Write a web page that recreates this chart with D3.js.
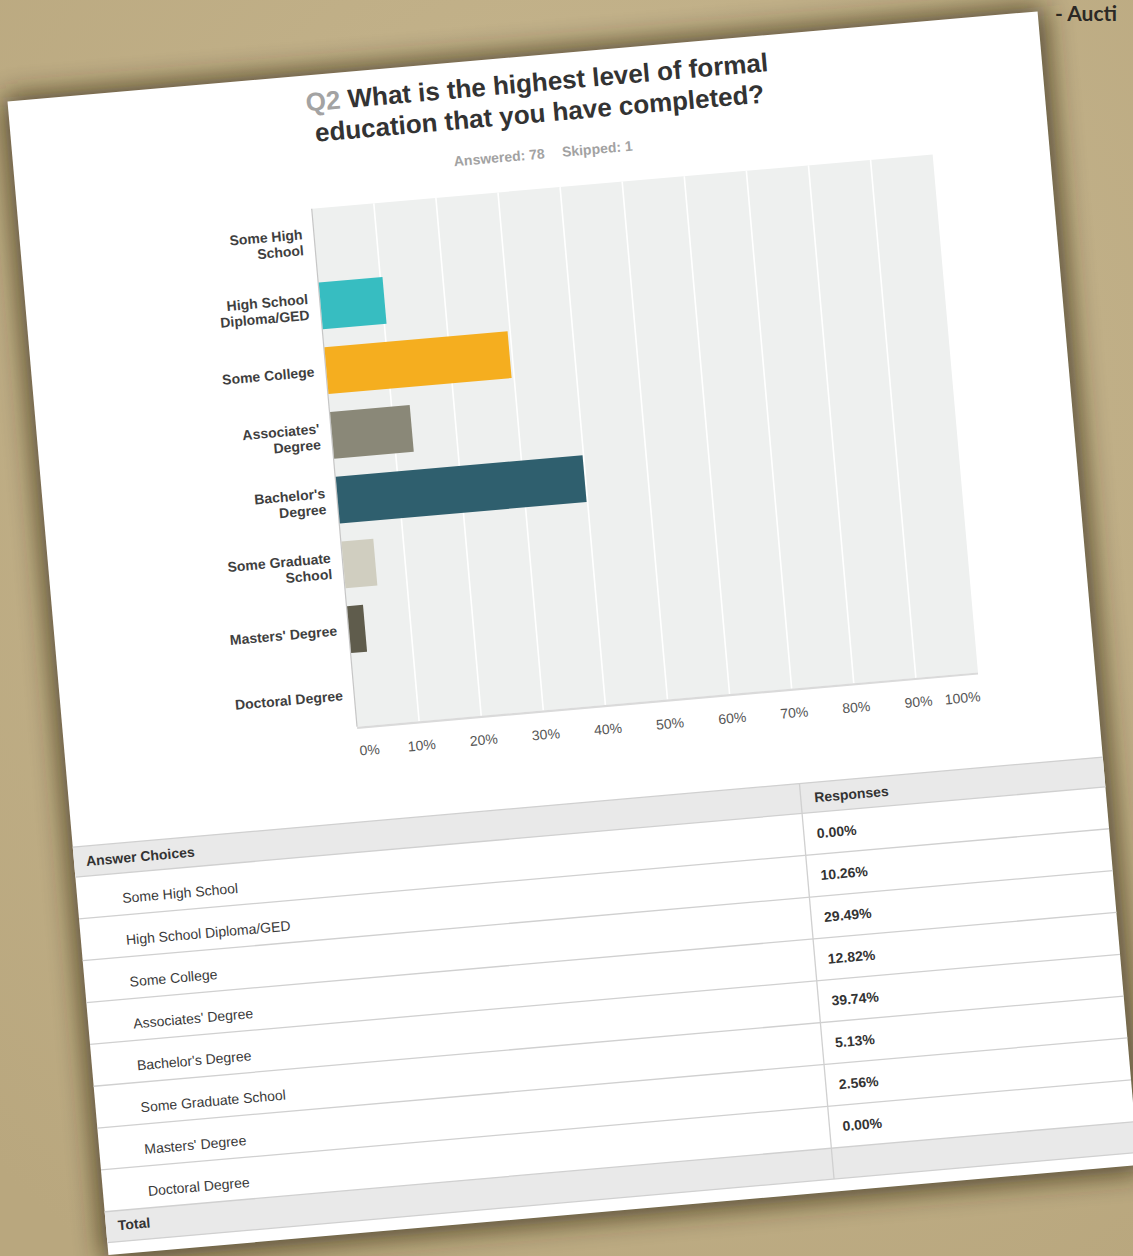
<!DOCTYPE html>
<html>
<head>
<meta charset="utf-8">
<script src="https://cdn.jsdelivr.net/npm/d3@7"></script>
<style>
  html, body { margin: 0; padding: 0; background: #c4b48c; overflow: hidden; }
  svg { display: block; font-family: "Liberation Sans", Arial, sans-serif; }
</style>
</head>
<body>
<svg id="chart"></svg>
<script>
// chart data
var categories = ["Some High School", "High School Diploma/GED", "Some College", "Associates' Degree",
  "Bachelor's Degree", "Some Graduate School", "Masters' Degree", "Doctoral Degree"];
var axisLabels = [["Some High", "School"], ["High School", "Diploma/GED"], ["Some College"],
  ["Associates'", "Degree"], ["Bachelor's", "Degree"], ["Some Graduate", "School"],
  ["Masters' Degree"], ["Doctoral Degree"]];
var percents = [0, 10.26, 29.49, 12.82, 39.74, 5.13, 2.56, 0];
var barColors = ["#37bdc1", "#37bdc1", "#f5ae1f", "#8a8878", "#2f5f6e", "#d0cec0", "#5f5c4c", "#a5a08c"];
var xTicks = [0, 10, 20, 30, 40, 50, 60, 70, 80, 90, 100];
var titleLines = ["What is the highest level of formal", "education that you have completed?"];
var answered = "Answered: 78", skipped = "Skipped: 1";

var W = 1133, H = 1256;
var svg = d3.select("#chart").attr("width", W).attr("height", H);
var defs = svg.append("defs");

// tan background
var bg = defs.append("radialGradient").attr("id", "bg")
  .attr("cx", "55%").attr("cy", "35%").attr("r", "80%");
bg.append("stop").attr("offset", "0%").attr("stop-color", "#c8b891");
bg.append("stop").attr("offset", "100%").attr("stop-color", "#b9a77e");
svg.append("rect").attr("width", W).attr("height", H).attr("fill", "url(#bg)");

defs.append("filter").attr("id", "shadow")
  .attr("x", "-20%").attr("y", "-20%").attr("width", "140%").attr("height", "140%")
  .append("feGaussianBlur").attr("stdDeviation", 14);

svg.append("text")
  .attr("x", 1055).attr("y", 21)
  .style("font-family", "Lato, 'Open Sans', sans-serif")
  .style("font-size", "21px").style("font-weight", "bold")
  .attr("fill", "#2b2925")
  .text("- Aucti");

// the sheet, tilted
var page = svg.append("g").attr("transform", "translate(7.5,101.5) rotate(-5)");
page.append("rect")
  .attr("x", -4).attr("y", -4).attr("width", 1044).attr("height", 1168)
  .attr("fill", "#2a2010").attr("opacity", 0.75)
  .attr("filter", "url(#shadow)");
page.append("rect").attr("width", 1034).attr("height", 1158).attr("fill", "#fff");

// title
var title = page.append("text")
  .attr("text-anchor", "middle")
  .style("font-size", "26px").style("font-weight", "bold");
title.append("tspan").attr("x", 529).attr("y", 36)
  .append("tspan").attr("fill", "#a3a3a3").text("Q2 ");
title.select("tspan").append("tspan").attr("fill", "#333").text(titleLines[0]);
title.append("tspan").attr("x", 529).attr("y", 67).attr("fill", "#333").text(titleLines[1]);

page.append("text").attr("x", 530.5).attr("y", 103.5).attr("text-anchor", "end")
  .attr("fill", "#a2a2a2").style("font-size", "14px").style("font-weight", "bold").text(answered);
page.append("text").attr("x", 548).attr("y", 103.5)
  .attr("fill", "#a2a2a2").style("font-size", "14px").style("font-weight", "bold").text(skipped);

// plot
var plot = { left: 293.7, right: 917, top: 133.4, bottom: 653.4 };
var x = d3.scaleLinear().domain([0, 100]).range([plot.left, plot.right]);
var y = d3.scaleBand().domain(categories).range([plot.top, plot.bottom])
  .paddingInner(0.277).paddingOuter(0.1385);

page.append("rect")
  .attr("x", x(0)).attr("y", plot.top)
  .attr("width", x(100) - x(0)).attr("height", plot.bottom - plot.top)
  .attr("fill", "#eef0ef");

page.append("g").selectAll("line")
  .data(xTicks.slice(1, -1))
  .enter().append("line")
  .attr("x1", d => x(d)).attr("x2", d => x(d))
  .attr("y1", plot.top).attr("y2", plot.bottom)
  .attr("stroke", "#fff").attr("stroke-width", 1.6);

page.append("line")
  .attr("x1", x(0)).attr("x2", x(0)).attr("y1", plot.top).attr("y2", plot.bottom)
  .attr("stroke", "#c6c6c6").attr("stroke-width", 1.2);
page.append("line")
  .attr("x1", x(0)).attr("x2", x(100)).attr("y1", plot.bottom + 1).attr("y2", plot.bottom + 1)
  .attr("stroke", "#dadada").attr("stroke-width", 2.2);

page.append("g").selectAll("rect")
  .data(categories)
  .enter().append("rect")
  .attr("x", x(0) + 0.6)
  .attr("y", d => y(d))
  .attr("width", (d, i) => Math.max(0, x(percents[i]) - x(0)))
  .attr("height", y.bandwidth())
  .attr("fill", (d, i) => barColors[i]);

// category labels
var labels = page.append("g").selectAll("text")
  .data(categories)
  .enter().append("text")
  .attr("text-anchor", "end")
  .attr("fill", "#3f3f3f")
  .style("font-size", "14px").style("font-weight", "bold");
labels.each(function (d, i) {
  var lines = axisLabels[i];
  var cy = y(d) + y.bandwidth() / 2;
  var t = d3.select(this);
  lines.forEach(function (s, k) {
    t.append("tspan")
      .attr("x", x(0) - 11.5)
      .attr("y", cy + 5 + (k - (lines.length - 1) / 2) * 16)
      .text(s);
  });
});

// percent axis
var axis = page.append("g")
  .attr("transform", "translate(0," + plot.bottom + ")")
  .call(d3.axisBottom(x).tickValues(xTicks).tickSize(0).tickPadding(19).tickFormat(d => d + "%"));
axis.select(".domain").remove();
axis.selectAll("text")
  .attr("fill", "#555")
  .style("font-size", "14px")
  .style("font-family", "'Liberation Sans', Arial, sans-serif");
axis.selectAll(".tick").filter(d => d === 0).select("text").attr("text-anchor", "start");
axis.selectAll(".tick").filter(d => d === 100).select("text").attr("text-anchor", "end");

// table
var tbl = { top: 748.5, headH: 30, rowH: 42, divX: 729.5, right: 1034, totalH: 31 };
var rowsTop = tbl.top + tbl.headH;
var rowY = d3.scaleBand().domain(categories).range([rowsTop, rowsTop + tbl.rowH * categories.length]);
var totalTop = rowY.range()[1];

page.append("rect").attr("x", 0).attr("y", tbl.top).attr("width", tbl.right).attr("height", tbl.headH)
  .attr("fill", "#e9e9e9");
page.append("rect").attr("x", 0).attr("y", totalTop).attr("width", tbl.right).attr("height", tbl.totalH)
  .attr("fill", "#e9e9e9");

var hLines = [tbl.top, rowsTop].concat(categories.map(d => rowY(d) + rowY.bandwidth()), [totalTop + tbl.totalH]);
page.append("g").selectAll("line")
  .data(hLines)
  .enter().append("line")
  .attr("x1", 0).attr("x2", tbl.right)
  .attr("y1", d => d).attr("y2", d => d)
  .attr("stroke", "#d0d0d0").attr("stroke-width", 1.3);
page.append("line")
  .attr("x1", tbl.divX).attr("x2", tbl.divX)
  .attr("y1", tbl.top).attr("y2", totalTop + tbl.totalH)
  .attr("stroke", "#d0d0d0").attr("stroke-width", 1.3);

page.append("text").attr("x", 12).attr("y", tbl.top + tbl.headH / 2 + 5)
  .attr("fill", "#333").style("font-size", "14px").style("font-weight", "bold").text("Answer Choices");
page.append("text").attr("x", tbl.divX + 13.5).attr("y", tbl.top + tbl.headH / 2 + 5)
  .attr("fill", "#333").style("font-size", "14px").style("font-weight", "bold").text("Responses");
page.append("text").attr("x", 12).attr("y", totalTop + tbl.totalH / 2 + 4)
  .attr("fill", "#333").style("font-size", "14px").style("font-weight", "bold").text("Total");

page.append("g").selectAll("text")
  .data(categories)
  .enter().append("text")
  .attr("x", 45)
  .attr("y", d => rowY(d) + rowY.bandwidth() / 2 + 9)
  .attr("fill", "#3a3a3a").style("font-size", "14px")
  .text(d => d);

page.append("g").selectAll("text")
  .data(percents)
  .enter().append("text")
  .attr("x", tbl.divX + 13)
  .attr("y", (d, i) => rowY(categories[i]) + rowY.bandwidth() / 2 + 5)
  .attr("fill", "#333").style("font-size", "14px").style("font-weight", "bold")
  .text(d => d3.format(".2f")(d) + "%");
</script>
</body>
</html>
